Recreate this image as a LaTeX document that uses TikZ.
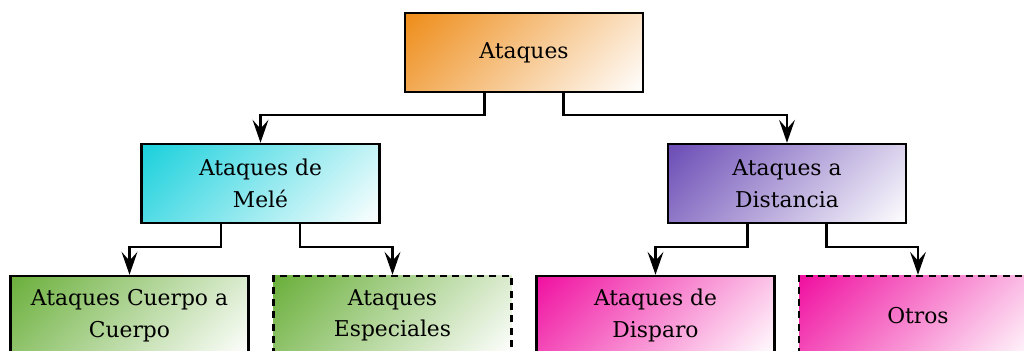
\documentclass[tikz,border=0pt]{standalone}
\usepackage{fontspec}
\setmainfont{DejaVu Serif}
\usetikzlibrary{arrows.meta,positioning}

\definecolor{ataqueOrange}{HTML}{EE8C18}
\definecolor{meleCyan}{HTML}{18D0DC}
\definecolor{distPurple}{HTML}{6A4BB5}
\definecolor{cuerpoGreen}{HTML}{6AAF3A}
\definecolor{disparoPink}{HTML}{F00FA0}

\begin{document}
\begin{tikzpicture}[
    box/.style={draw=black, line width=1.4pt, minimum width=4.76cm, minimum height=1.58cm,
      align=center, font=\fontsize{12.4}{18}\selectfont,
      path picture={
        \begin{scope}[transform canvas={rotate around={45:(path picture bounding box.center)}}]
          \shade[top color=#1, bottom color=white]
            ([shift={(-2.6,-2.24)}]path picture bounding box.center) rectangle
            ([shift={(2.6,2.24)}]path picture bounding box.center);
        \end{scope}}},
    extra/.style={dash pattern=on 4pt off 3pt},
    link/.style={line width=1.4pt, -{Stealth[length=13pt,width=9pt,inset=5pt]}}
  ]
      \useasboundingbox (0,0) rectangle (20.48,7.02);

      \node[box=ataqueOrange] (root) at (10.48, 5.97) {Ataques};

      \node[box=meleCyan] (mele) at (5.21, 3.35) {Ataques de\\Melé};
      \node[box=distPurple] (dist) at (15.74, 3.35) {Ataques a\\Distancia};

      \node[box=cuerpoGreen] (cuerpo) at (2.59, 0.71) {Ataques Cuerpo a\\Cuerpo};
      \node[box=cuerpoGreen, extra] (especial) at (7.85, 0.71) {Ataques\\Especiales};
      \node[box=disparoPink] (disparo) at (13.11, 0.71) {Ataques de\\Disparo};
      \node[box=disparoPink, extra] (otros) at (18.36, 0.71) {Otros};

      \draw[link] ([xshift=-0.79cm]root.south) -- ++(0,-0.44) -| (mele.north);
      \draw[link] ([xshift=0.79cm]root.south) -- ++(0,-0.44) -| (dist.north);

      \draw[link] ([xshift=-0.79cm]mele.south) -- ++(0,-0.46) -| (cuerpo.north);
      \draw[link] ([xshift=0.79cm]mele.south) -- ++(0,-0.46) -| (especial.north);

      \draw[link] ([xshift=-0.79cm]dist.south) -- ++(0,-0.46) -| (disparo.north);
      \draw[link] ([xshift=0.79cm]dist.south) -- ++(0,-0.46) -| (otros.north);
    \end{tikzpicture}
\end{document}
